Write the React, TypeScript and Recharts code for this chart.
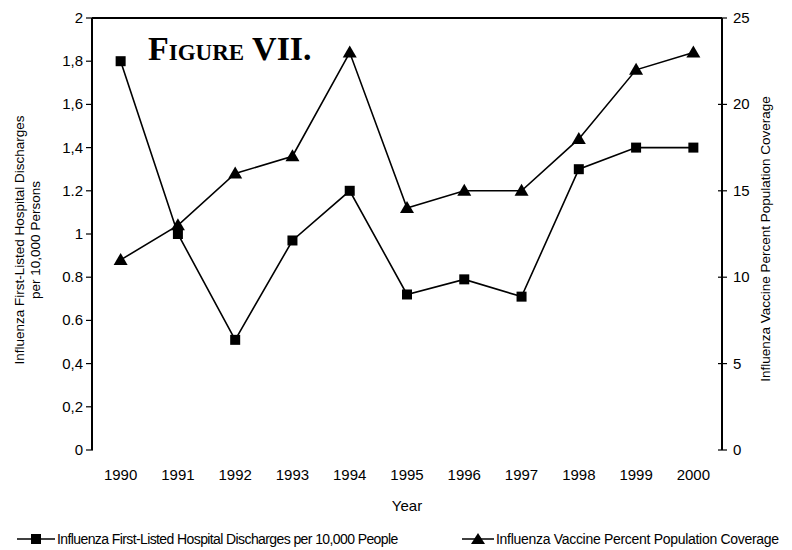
import React from 'react';
import { LineChart, Line, XAxis, YAxis, ReferenceLine, Legend } from 'recharts';

const years = [1990, 1991, 1992, 1993, 1994, 1995, 1996, 1997, 1998, 1999, 2000];
const discharges = [1.8, 1.0, 0.51, 0.97, 1.2, 0.72, 0.79, 0.71, 1.3, 1.4, 1.4];
const coverage = [11, 13, 16, 17, 23, 14, 15, 15, 18, 22, 23];

const leftTicks = [0, 0.2, 0.4, 0.6, 0.8, 1, 1.2, 1.4, 1.6, 1.8, 2];
const leftTickLabels = ['0', '0,2', '0,4', '0.6', '0.8', '1', '1.2', '1,4', '1,6', '1,8', '2'];
const rightTicks = [0, 5, 10, 15, 20, 25];
const yearBounds = [1990.5, 1991.5, 1992.5, 1993.5, 1994.5, 1995.5, 1996.5, 1997.5, 1998.5, 1999.5];

const dischargeName = 'Influenza First-Listed Hospital Discharges per 10,000 People';
const coverageName = 'Influenza Vaccine Percent Population Coverage';

const data = years.map((year, i) => ({ year, discharges: discharges[i], coverage: coverage[i] }));

const FONT = '"Liberation Sans", Arial, sans-serif';

const Square = (p: any) => {
  if (p.cx == null || p.cy == null) return null;
  return <rect key={p.key} x={p.cx - 5} y={p.cy - 5} width={10} height={10} fill="#000" />;
};

const Triangle = (p: any) => {
  if (p.cx == null || p.cy == null) return null;
  const { cx, cy } = p;
  return <polygon key={p.key} points={`${cx},${cy - 7} ${cx - 7},${cy + 5} ${cx + 7},${cy + 5}`} fill="#000" />;
};

const LeftTick = (p: any) => {
  const i = leftTicks.indexOf(p.payload.value);
  return (
    <g>
      <line x1={p.x - 6} x2={p.x + 1} y1={p.y} y2={p.y} stroke="#000" strokeWidth={1.2} />
      <text x={p.x - 9} y={p.y} dy={5} textAnchor="end" fontSize={15} fontFamily={FONT} fill="#000">
        {leftTickLabels[i]}
      </text>
    </g>
  );
};

const RightTick = (p: any) => (
  <g>
    <line x1={p.x - 4} x2={p.x + 5} y1={p.y} y2={p.y} stroke="#000" strokeWidth={1.2} />
    <text x={p.x + 11} y={p.y} dy={5} textAnchor="start" fontSize={15} fontFamily={FONT} fill="#000">
      {p.payload.value}
    </text>
  </g>
);

const BoundTick = (p: any) => (
  <line x1={p.x} x2={p.x} y1={p.y - 4} y2={p.y + 6} stroke="#000" strokeWidth={1.2} />
);

const YearTick = (p: any) => (
  <text x={p.x} y={p.y + 30} textAnchor="middle" fontSize={15} fontFamily={FONT} fill="#000">
    {p.payload.value}
  </text>
);

const LeftTitle = (p: any) => {
  const cy = p.viewBox.y + p.viewBox.height / 2 + 6;
  return (
    <g fontSize={13.5} fontFamily={FONT} fill="#000" textAnchor="middle">
      <text transform={`translate(24, ${cy}) rotate(-90)`}>Influenza First-Listed Hospital Discharges</text>
      <text transform={`translate(40, ${cy}) rotate(-90)`}>per 10,000 Persons</text>
    </g>
  );
};

const RightTitle = (p: any) => {
  const cy = p.viewBox.y + p.viewBox.height / 2 + 5;
  return (
    <text transform={`translate(770, ${cy}) rotate(-90)`} fontSize={13.5} fontFamily={FONT} fill="#000" textAnchor="middle">
      {coverageName}
    </text>
  );
};

const YearTitle = (p: any) => (
  <text x={p.viewBox.x + p.viewBox.width / 2} y={511} textAnchor="middle" fontSize={15} fontFamily={FONT} fill="#000">
    Year
  </text>
);

const LegendContent = () => {
  const text: React.CSSProperties = {
    position: 'absolute',
    top: 0,
    fontFamily: FONT,
    fontSize: 14,
    letterSpacing: -0.6,
    lineHeight: '16px',
    color: '#000',
    whiteSpace: 'nowrap',
  };
  return (
    <div style={{ position: 'relative', width: 792, height: 16 }}>
      <svg style={{ position: 'absolute', left: 15, top: 0 }} width={42} height={16}>
        <line x1={2} x2={40} y1={8} y2={8} stroke="#000" strokeWidth={1.5} />
        <rect x={16} y={3} width={10} height={10} fill="#000" />
      </svg>
      <span style={{ ...text, left: 57 }}>{dischargeName}</span>
      <svg style={{ position: 'absolute', left: 460, top: 0 }} width={36} height={16}>
        <line x1={2} x2={34} y1={8} y2={8} stroke="#000" strokeWidth={1.5} />
        <polygon points="18,2 11,13 25,13" fill="#000" />
      </svg>
      <span style={{ ...text, left: 496, letterSpacing: -0.3 }}>{coverageName}</span>
    </div>
  );
};

export default function App() {
  return (
    <div style={{ position: 'absolute', left: 0, top: 0, width: 792, height: 550, background: '#fff' }}>
      <LineChart width={792} height={550} data={data} margin={{ top: 18, right: 0, bottom: 0, left: 0 }}>
        <XAxis
          xAxisId="bound"
          dataKey="year"
          type="number"
          domain={[1989.5, 2000.5]}
          ticks={yearBounds}
          interval={0}
          height={0}
          tickSize={0}
          tickMargin={0}
          tickLine={false}
          tick={<BoundTick />}
          axisLine={{ stroke: '#000', strokeWidth: 2 }}
        />
        <XAxis
          xAxisId="years"
          dataKey="year"
          type="number"
          domain={[1989.5, 2000.5]}
          ticks={years}
          interval={0}
          height={100}
          tickSize={0}
          tickMargin={0}
          tickLine={false}
          axisLine={false}
          tick={<YearTick />}
          label={<YearTitle />}
        />
        <YAxis
          yAxisId="left"
          orientation="left"
          width={92}
          domain={[0, 2]}
          ticks={leftTicks}
          interval={0}
          tickSize={0}
          tickMargin={0}
          tickLine={false}
          tick={<LeftTick />}
          axisLine={{ stroke: '#000', strokeWidth: 2 }}
          label={<LeftTitle />}
        />
        <YAxis
          yAxisId="right"
          orientation="right"
          width={70}
          domain={[0, 25]}
          ticks={rightTicks}
          interval={0}
          tickSize={0}
          tickMargin={0}
          tickLine={false}
          tick={<RightTick />}
          axisLine={{ stroke: '#000', strokeWidth: 2 }}
          label={<RightTitle />}
        />
        <ReferenceLine yAxisId="left" xAxisId="years" y={2} stroke="#000" strokeWidth={2} />
        <Line
          xAxisId="years"
          yAxisId="left"
          dataKey="discharges"
          name={dischargeName}
          stroke="#000"
          strokeWidth={1.6}
          dot={<Square />}
          activeDot={false}
          isAnimationActive={false}
        />
        <Line
          xAxisId="years"
          yAxisId="right"
          dataKey="coverage"
          name={coverageName}
          stroke="#000"
          strokeWidth={1.6}
          dot={<Triangle />}
          activeDot={false}
          isAnimationActive={false}
        />
        <Legend
          layout="horizontal"
          align="center"
          verticalAlign="middle"
          content={<LegendContent />}
          wrapperStyle={{ left: 0, top: 531, width: 792, height: 16 }}
        />
        <text x={148} y={60} fontFamily='"Liberation Serif", "Times New Roman", serif' fontWeight="bold" fill="#000">
          <tspan fontSize={34}>F</tspan>
          <tspan fontSize={23}>IGURE</tspan>
          <tspan fontSize={34}> VII.</tspan>
        </text>
      </LineChart>
    </div>
  );
}
